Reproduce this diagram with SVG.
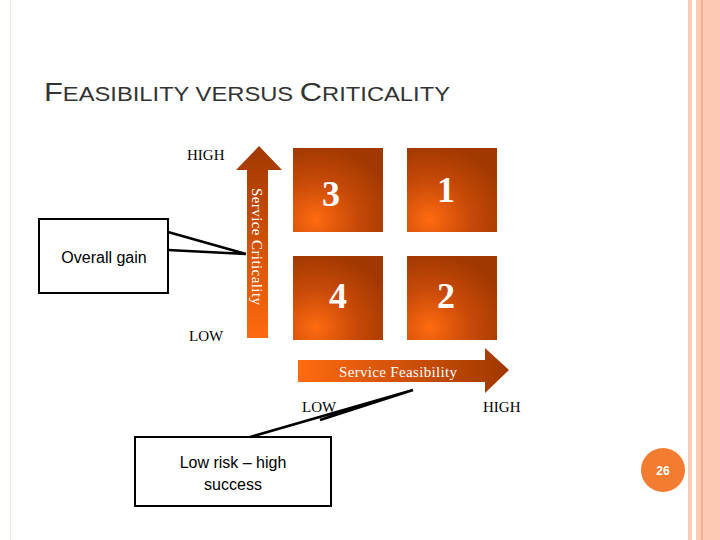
<svg xmlns="http://www.w3.org/2000/svg" width="720" height="540" viewBox="0 0 720 540">
<defs>
<radialGradient id="sq" cx="0.25" cy="0.85" r="0.9">
<stop offset="0" stop-color="#ff6a10"/><stop offset="0.5" stop-color="#c84a08"/><stop offset="1" stop-color="#a03800"/>
</radialGradient>
<linearGradient id="va" x1="0" y1="1" x2="0" y2="0"><stop offset="0" stop-color="#ff6a10"/><stop offset="1" stop-color="#a03800"/></linearGradient>
<linearGradient id="ha" x1="0" y1="0" x2="1" y2="0"><stop offset="0" stop-color="#ff6a10"/><stop offset="1" stop-color="#a03800"/></linearGradient>
<style>
.sq{fill:url(#sq)}
.num{font-family:"Liberation Serif",serif;font-size:36px;fill:#fff;font-weight:bold;text-anchor:middle}
.lbl{font-family:"Liberation Serif",serif;font-size:15px;fill:#000}
.box{fill:#fff;stroke:#000;stroke-width:2}
.ct{font-family:"Liberation Sans",Arial,sans-serif;font-size:16px;fill:#000;text-anchor:middle}
.cl{stroke:#000;stroke-width:2.5;fill:none}
</style>
</defs>
<rect width="720" height="540" fill="#fff"/>
<rect x="688" y="0" width="4" height="540" fill="#fbcbb5"/>
<rect x="696" y="0" width="24" height="540" fill="#fccab4"/>
<rect x="701" y="0" width="2" height="540" fill="#f4b096"/>
<rect x="10" y="0" width="1" height="540" fill="#fde4d8"/>
<text x="44" y="101" font-family="Liberation Sans,Arial,sans-serif" font-size="26" fill="#333" textLength="406" lengthAdjust="spacingAndGlyphs">F<tspan font-size="20">EASIBILITY VERSUS </tspan>C<tspan font-size="20">RITICALITY</tspan></text>
<g id="axis-v"><path d="M247,338 V170 H236 L259,146 L282,170 H268 V338 Z" fill="url(#va)"/>
<text transform="translate(252,188) rotate(90)" font-family="Liberation Serif,serif" font-size="15" fill="#fff" textLength="117">Service Criticality</text></g>
<g id="axis-h"><path d="M298,360 H485 V348 L509,370 L485,393 V382 H298 Z" fill="url(#ha)"/>
<text x="339" y="377" font-family="Liberation Serif,serif" font-size="15" fill="#fff" textLength="118">Service Feasibility</text></g>
<g id="q3"><rect class="sq" x="293" y="148" width="90" height="84"/><text class="num" x="331" y="206">3</text></g>
<g id="q1"><rect class="sq" x="407" y="148" width="90" height="84"/><text class="num" x="446" y="202">1</text></g>
<g id="q4"><rect class="sq" x="293" y="256" width="90" height="84"/><text class="num" x="338" y="308">4</text></g>
<g id="q2"><rect class="sq" x="407" y="256" width="90" height="84"/><text class="num" x="446" y="308">2</text></g>
<text class="lbl" x="187" y="160">HIGH</text>
<text class="lbl" x="189" y="341">LOW</text>
<text class="lbl" x="302" y="412">LOW</text>
<text class="lbl" x="483" y="412">HIGH</text>
<g id="callout-gain"><rect class="box" x="39" y="219" width="129" height="74"/><text class="ct" x="104" y="263">Overall gain</text></g>
<g id="callout-risk"><rect class="box" x="135" y="437" width="196" height="69"/><text class="ct" x="233" y="468">Low risk – high</text><text class="ct" x="233" y="490">success</text></g>
<g id="connectors">
<path class="cl" d="M168,232 L246,254 M168,250 L246,254"/>
<path class="cl" d="M250,437 L413,390 M320,420 L413,390"/>
</g>
<g id="page"><circle cx="663" cy="470" r="22" fill="#f47c30"/><text x="663" y="475" font-family="Liberation Sans,Arial,sans-serif" font-size="12" font-weight="bold" fill="#fff" text-anchor="middle">26</text></g>
</svg>
